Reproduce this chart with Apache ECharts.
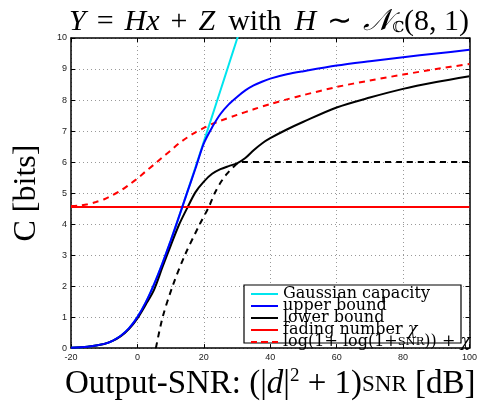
<!DOCTYPE html>
<html><head><meta charset="utf-8">
<script src="https://cdn.jsdelivr.net/npm/echarts@6/dist/echarts.min.js"></script>
<style>html,body{margin:0;padding:0;background:#fff}#c{width:480px;height:406px}</style>
</head><body><div id="c"></div>
<script>
// x-ticks and y-ticks
var xTicks = [-20, 0, 20, 40, 60, 80, 100];
var yTicks = [0,1,2,3,4,5,6,7,8,9,10];

// Gaussian capacity
var gaussX = [-20,-15,-10,-7.5,-5,-2.5,0,2.5,5,7.5,10,12.5,15,17.5,20,22.5,25,27.5,30,31];
var gaussY = [0.014,0.045,0.137,0.236,0.396,0.644,1.0,1.474,2.057,2.727,3.459,4.231,5.028,5.839,6.658,7.482,8.309,9.138,9.967,10.3];

// upper bound
var upperX = [-20,-15,-10,-7.5,-5,-2.5,0,2.5,5,7.5,10,12.5,15,17.5,20,22.5,25,27.5,30,32.5,35,37.5,40,45,50,60,70,80,90,100];
var upperY = [0.014,0.045,0.137,0.236,0.396,0.644,1.0,1.474,2.057,2.727,3.459,4.231,5.02,5.80,6.60,7.12,7.55,7.86,8.10,8.31,8.47,8.59,8.69,8.83,8.93,9.11,9.25,9.38,9.50,9.62];

// lower bound
var lowerX = [-20,-15,-10,-7.5,-5,-2.5,0,2.5,5,7.5,10,12.5,15,17.5,20,22.5,25,27.5,30,32.5,35,37.5,40,45,50,60,70,80,90,100];
var lowerY = [0.014,0.044,0.134,0.23,0.385,0.625,0.96,1.40,1.88,2.60,3.30,3.97,4.52,5.03,5.37,5.62,5.77,5.87,5.96,6.13,6.38,6.60,6.77,7.05,7.30,7.76,8.08,8.36,8.58,8.77];

// lower bound (dashed, asymptote 6)
var lowDashX = [5.56,7.6,10.6,14.3,18.8,21.5,23.3,25,26.8,29,31,40,60,80,100];
var lowDashY = [0,1,2,3,4,4.55,5,5.33,5.6,5.85,6.0,6.0,6.0,6.0,6.0];

// fading number chi
var chiX = [-20, 100];
var chiY = [4.55, 4.55];

// log(1+log(1+SNR)) + chi
var logX = [-20,-17.5,-15,-12.5,-10,-7.5,-5,-2.5,0,2.5,5,7.5,10,12.5,15,17.5,20,22.5,25,30,35,40,45,50,60,70,80,90,100];
var logY = [4.58,4.60,4.64,4.71,4.80,4.93,5.08,5.27,5.47,5.70,5.92,6.15,6.37,6.60,6.79,6.96,7.10,7.23,7.33,7.52,7.70,7.87,8.02,8.16,8.42,8.63,8.82,9.00,9.16];

function pairs(xs, ys){ return xs.map(function(x,i){ return [x, ys[i]]; }); }

var serif = 'Liberation Serif';
var lserif = 'DejaVu Serif';
var solidIcon = 'path://M0,0h27v2h-27z';
var dashIcon = 'path://M0,0h6v2h-6z M10,0h7v2h-7z M21,0h6v2h-6z';
var chart = echarts.init(document.getElementById('c'), null, {renderer:'canvas'});

var axisCommon = {
  axisLine:{show:true, onZero:false, lineStyle:{color:'#000', width:1.5}},
  axisTick:{show:true, inside:true, length:4, lineStyle:{color:'#000', width:1}},
};

chart.setOption({
  animation:false,
  backgroundColor:'#fff',
  title:{
    left:264, textAlign:'center', top:2,
    text:'{i|Y}{op|=}{i|Hx}{op|+}{i|Z}{w|with}{i|H}{op|∼}{i|𝒩}{s|ℂ}{n|(8, 1)}',
    textStyle:{
      fontFamily:serif, fontSize:30, color:'#000', fontWeight:'normal',
      rich:{
        i:{fontFamily:serif, fontStyle:'italic', fontSize:30, color:'#000'},
        n:{fontFamily:serif, fontSize:30, color:'#000'},
        op:{fontFamily:serif, fontSize:30, color:'#000', padding:[0,11,0,11]},
        w:{fontFamily:serif, fontSize:30, color:'#000', padding:[0,13,0,13]},
        s:{fontFamily:'DejaVu Serif', fontSize:15, color:'#000', padding:[12,0,0,0]}
      }
    }
  },
  grid:{left:71, right:10, top:38, bottom:54, containLabel:false},
  legend:{
    orient:'vertical', left:246, top:281, itemWidth:27, itemHeight:11, itemGap:-4,
    data:[
      {name:'Gaussian capacity', icon:solidIcon},
      {name:'upper bound', icon:solidIcon},
      {name:'lower bound', icon:solidIcon},
      {name:'fading number χ', icon:solidIcon},
      {name:'log(1+ log(1+SNR)) + χ', icon:dashIcon}
    ],
    formatter:function(n){
      if(n==='log(1+ log(1+SNR)) + χ') return 'log(1+ log(1+{sc|SNR})) + {i|χ}';
      if(n==='fading number χ') return 'fading number {i|χ}';
      return n;
    },
    textStyle:{fontFamily:lserif, fontSize:16, color:'#000',
      rich:{sc:{fontFamily:lserif, fontSize:11.5, color:'#000'},
            i:{fontFamily:lserif, fontStyle:'italic', fontSize:16, color:'#000'}}},
    z:10
  },
  graphic:[{type:'rect', z:3, shape:{x:244, y:285, width:217, height:58},
    style:{fill:'#fff', stroke:'#000', lineWidth:1.2}}],
  xAxis:[
    Object.assign({type:'value', min:-20, max:100, interval:20, position:'bottom',
      splitLine:{show:true, lineStyle:{color:'#999', type:[1,3], width:1}},
      axisLabel:{color:'#222', fontFamily:'Liberation Sans', fontSize:9, margin:5},
      name:'{n|Output-SNR: (|}{i|d}{n||}{sup|2}{n| + 1)}{sc|SNR}{n| [dB]}', nameLocation:'middle', nameGap:17,
      nameTextStyle:{fontFamily:serif, fontSize:33, color:'#000',
        rich:{n:{fontFamily:serif, fontSize:33, color:'#000'},
              i:{fontFamily:serif, fontStyle:'italic', fontSize:33, color:'#000'},
              sup:{fontFamily:serif, fontSize:19, color:'#000', padding:[0,0,16,0]},
              sc:{fontFamily:serif, fontSize:23, color:'#000'}}}
    }, axisCommon),
    {type:'value', min:-20, max:100, interval:20, position:'top',
      axisLine:{show:true, onZero:false, lineStyle:{color:'#000', width:1.5}},
      axisTick:{show:true, inside:true, length:4, lineStyle:{color:'#000'}},
      axisLabel:{show:false}, splitLine:{show:false}}
  ],
  yAxis:[
    Object.assign({type:'value', min:0, max:10, interval:1, position:'left',
      splitLine:{show:true, lineStyle:{color:'#999', type:[1,3], width:1}},
      axisLabel:{color:'#222', fontFamily:'Liberation Sans', fontSize:9, margin:4},
      name:'C [bits]', nameLocation:'middle', nameGap:28,
      nameTextStyle:{fontFamily:serif, fontSize:32, color:'#000'}
    }, axisCommon),
    {type:'value', min:0, max:10, interval:1, position:'right',
      axisLine:{show:true, onZero:false, lineStyle:{color:'#000', width:1.5}},
      axisTick:{show:true, inside:true, length:4, lineStyle:{color:'#000'}},
      axisLabel:{show:false}, splitLine:{show:false}}
  ],
  series:[
    {name:'Gaussian capacity', type:'line', data:pairs(gaussX,gaussY), smooth:0.3, showSymbol:false, symbol:'none',
      lineStyle:{color:'#00e5ee', width:2}, itemStyle:{color:'#00e5ee'}, clip:true, z:2},
    {name:'lower bound', type:'line', data:pairs(lowerX,lowerY), smooth:0.3, showSymbol:false, symbol:'none',
      lineStyle:{color:'#000', width:2}, itemStyle:{color:'#000'}, z:3},
    {name:'upper bound', type:'line', data:pairs(upperX,upperY), smooth:0.3, showSymbol:false, symbol:'none',
      lineStyle:{color:'#0000ff', width:2}, itemStyle:{color:'#0000ff'}, z:4},
    {name:'lower bound dashed', type:'line', data:pairs(lowDashX,lowDashY), smooth:0.3, showSymbol:false, symbol:'none',
      lineStyle:{color:'#000', width:2, type:[6,5]}, itemStyle:{color:'#000'}, z:3},
    {name:'fading number χ', type:'line', data:pairs(chiX,chiY), showSymbol:false, symbol:'none',
      lineStyle:{color:'#ff0000', width:2}, itemStyle:{color:'#ff0000'}, z:3},
    {name:'log(1+ log(1+SNR)) + χ', type:'line', data:pairs(logX,logY), smooth:0.3, showSymbol:false, symbol:'none',
      lineStyle:{color:'#ff0000', width:2, type:[6,5]}, itemStyle:{color:'#ff0000'}, z:3}
  ]
});
</script></body></html>
